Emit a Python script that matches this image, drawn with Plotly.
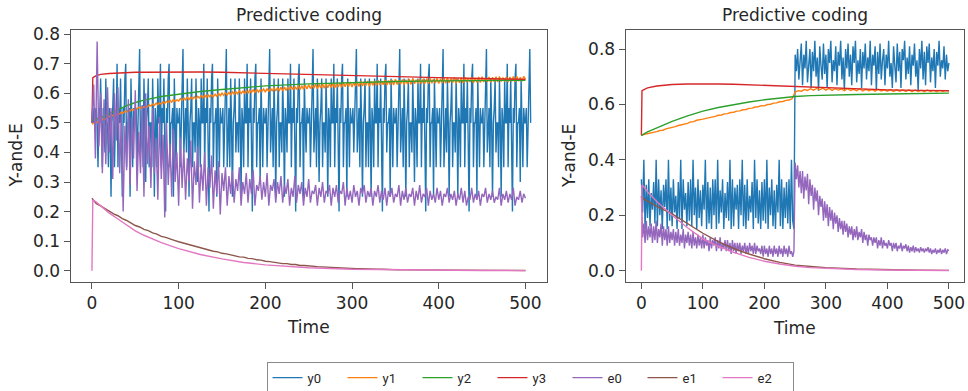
import plotly.graph_objects as go

# ---------------- LEFT PANEL DATA ----------------
# y0, step 1 (t = 0, 1, 2, ...)
L_Y0 = [
    0.5,0.55,0.5,0.55,0.5,0.55,0.5,0.35,0.55,0.5, 0.65,0.5,0.35,0.55,0.5,0.4,0.65,0.5,0.5,0.35,
    0.55,0.5,0.25,0.5,0.55,0.65,0.35,0.5,0.5,0.7, 0.35,0.55,0.5,0.65,0.4,0.25,0.55,0.5,0.65,0.7,
    0.35,0.5,0.5,0.55,0.25,0.65,0.5,0.35,0.55,0.5,
    0.5,0.55,0.35,0.5,0.65,0.75,0.4,0.5,0.55,0.35, 0.65,0.5,0.3,0.5,0.55,0.65,0.35,0.5,0.5,0.35,
    0.65,0.5,0.25,0.55,0.5,0.35,0.65,0.5,0.5,0.7, 0.35,0.55,0.5,0.65,0.4,0.2,0.55,0.5,0.65,0.7,
    0.35,0.5,0.5,0.55,0.25,0.65,0.5,0.35,0.55,0.5,
    0.5,0.55,0.35,0.5,0.65,0.75,0.4,0.5,0.55,0.4, 0.65,0.5,0.25,0.5,0.55,0.65,0.35,0.5,0.5,0.4,
    0.65,0.5,0.3,0.55,0.5,0.35,0.65,0.5,0.5,0.7, 0.35,0.55,0.5,0.65,0.4,0.2,0.55,0.5,0.65,0.7,
    0.35,0.5,0.5,0.55,0.25,0.65,0.5,0.35,0.55,0.5,
    0.5,0.55,0.35,0.5,0.65,0.75,0.35,0.5,0.55,0.35, 0.65,0.5,0.25,0.5,0.55,0.65,0.4,0.5,0.5,0.4,
    0.65,0.5,0.25,0.55,0.5,0.35,0.65,0.5,0.5,0.7, 0.35,0.55,0.5,0.65,0.35,0.2,0.55,0.5,0.65,0.7,
    0.35,0.5,0.5,0.55,0.3,0.65,0.5,0.35,0.55,0.5,
    0.5,0.55,0.35,0.5,0.65,0.75,0.4,0.5,0.55,0.35, 0.65,0.5,0.25,0.5,0.55,0.65,0.35,0.5,0.5,0.4,
    0.65,0.5,0.25,0.55,0.5,0.4,0.65,0.5,0.5,0.7, 0.35,0.55,0.5,0.65,0.4,0.2,0.55,0.5,0.65,0.7,
    0.35,0.5,0.5,0.55,0.25,0.65,0.5,0.4,0.55,0.5,
    0.5,0.55,0.35,0.5,0.65,0.75,0.4,0.5,0.55,0.35, 0.65,0.5,0.3,0.5,0.55,0.65,0.35,0.5,0.5,0.4,
    0.65,0.5,0.25,0.55,0.5,0.35,0.65,0.5,0.5,0.7, 0.35,0.55,0.5,0.65,0.4,0.2,0.55,0.5,0.65,0.7,
    0.35,0.5,0.5,0.55,0.25,0.65,0.5,0.35,0.55,0.5,
    0.5,0.55,0.4,0.5,0.65,0.75,0.4,0.5,0.55,0.35, 0.65,0.5,0.25,0.5,0.55,0.65,0.35,0.5,0.5,0.35,
    0.65,0.5,0.25,0.55,0.5,0.35,0.65,0.5,0.5,0.7, 0.35,0.55,0.5,0.65,0.4,0.2,0.55,0.5,0.65,0.7,
    0.4,0.5,0.5,0.55,0.25,0.65,0.5,0.35,0.55,0.5,
    0.5,0.55,0.35,0.5,0.65,0.75,0.4,0.5,0.55,0.35, 0.65,0.5,0.25,0.5,0.55,0.65,0.35,0.5,0.5,0.4,
    0.65,0.5,0.3,0.55,0.5,0.35,0.65,0.5,0.5,0.7, 0.35,0.55,0.5,0.65,0.4,0.2,0.55,0.5,0.65,0.7,
    0.35,0.5,0.5,0.55,0.25,0.65,0.5,0.35,0.55,0.5,
    0.5,0.55,0.35,0.5,0.65,0.75,0.35,0.5,0.55,0.4, 0.65,0.5,0.25,0.5,0.55,0.65,0.35,0.5,0.5,0.4,
    0.65,0.5,0.25,0.55,0.5,0.35,0.65,0.5,0.5,0.7, 0.35,0.55,0.5,0.65,0.4,0.2,0.55,0.5,0.65,0.7,
    0.35,0.5,0.5,0.55,0.25,0.65,0.5,0.35,0.55,0.5,
    0.5,0.55,0.35,0.5,0.65,0.75,0.4,0.5,0.55,0.35, 0.65,0.5,0.25,0.5,0.55,0.65,0.4,0.5,0.5,0.35,
    0.65,0.5,0.25,0.55,0.5,0.35,0.65,0.5,0.5,0.7, 0.35,0.55,0.5,0.65,0.4,0.2,0.55,0.5,0.65,0.7,
    0.35,0.5,0.5,0.55,0.3,0.65,0.5,0.35,0.55,0.5,
    0.5,0.55,0.35,0.5,0.65,0.75,0.5,
]

# y1, step 2
L_Y1 = [
    0.496,0.499,0.503,0.502,0.507,0.509,0.511,0.514,0.513,0.519,
    0.521,0.526,0.524,0.529,0.527,0.533,0.530,0.536,0.533,0.539,
    0.537,0.544,0.540,0.546,0.543,0.551,0.547,0.553,0.549,0.556,
    0.552,0.558,0.554,0.561,0.557,0.564,0.559,0.567,0.561,0.568,
    0.563,0.571,0.566,0.573,0.568,0.576,0.570,0.579,0.572,0.578,
    0.574,0.582,0.576,0.584,0.578,0.586,0.579,0.587,0.580,0.588,
    0.581,0.590,0.584,0.592,0.585,0.594,0.586,0.595,0.588,0.594,
    0.588,0.597,0.590,0.600,0.592,0.601,0.593,0.602,0.594,0.603,
    0.595,0.605,0.597,0.606,0.598,0.609,0.599,0.607,0.600,0.610,
    0.600,0.611,0.602,0.612,0.603,0.614,0.604,0.612,0.606,0.615,
    0.604,0.616,0.606,0.617,0.607,0.619,0.608,0.618,0.609,0.620,
    0.608,0.621,0.610,0.622,0.611,0.624,0.612,0.623,0.613,0.626,
    0.612,0.626,0.614,0.627,0.615,0.629,0.616,0.628,0.617,0.631,
    0.615,0.630,0.618,0.631,0.617,0.633,0.619,0.632,0.620,0.634,
    0.618,0.633,0.621,0.635,0.620,0.637,0.622,0.636,0.623,0.638,
    0.621,0.637,0.624,0.639,0.623,0.641,0.625,0.638,0.626,0.642,
    0.624,0.640,0.627,0.642,0.626,0.644,0.628,0.641,0.629,0.645,
    0.627,0.643,0.629,0.645,0.628,0.648,0.630,0.644,0.631,0.647,
    0.629,0.646,0.631,0.648,0.630,0.650,0.632,0.646,0.633,0.649,
    0.631,0.648,0.633,0.650,0.632,0.652,0.634,0.648,0.635,0.651,
    0.633,0.649,0.635,0.652,0.634,0.653,0.636,0.650,0.636,0.654,
    0.634,0.651,0.636,0.653,0.635,0.655,0.637,0.651,0.638,0.654,
    0.635,0.652,0.637,0.655,0.636,0.656,0.638,0.652,0.639,0.655,
    0.637,0.654,0.639,0.656,0.638,0.657,0.640,0.653,0.640,0.656,
    0.638,0.655,0.640,0.657,0.639,0.658,0.641,0.654,0.641,0.657,
    0.648,
]

# e0, step 2
L_E0 = [
    0.50,0.63,0.38,0.775,0.42,0.60,0.33,0.58,0.36,0.62,
    0.40,0.55,0.31,0.60,0.44,0.62,0.33,0.53,0.20,0.49,
    0.34,0.58,0.29,0.52,0.38,0.61,0.27,0.47,0.33,0.56,
    0.25,0.60,0.36,0.49,0.28,0.55,0.33,0.45,0.24,0.52,
    0.31,0.46,0.18,0.50,0.29,0.43,0.25,0.48,0.30,0.40,
    0.22,0.45,0.28,0.41,0.24,0.38,0.30,0.44,0.21,0.37,
    0.29,0.42,0.23,0.36,0.27,0.40,0.22,0.35,0.28,0.39,
    0.21,0.34,0.26,0.37,0.19,0.33,0.27,0.35,0.22,0.32,
    0.26,0.34,0.23,0.31,0.27,0.35,0.22,0.30,0.26,0.33,
    0.23,0.31,0.26,0.34,0.22,0.29,0.27,0.32,0.24,0.30,
    0.25,0.33,0.22,0.29,0.27,0.31,0.23,0.30,0.26,0.32,
    0.23,0.29,0.26,0.31,0.22,0.28,0.25,0.32,0.23,0.29,
    0.26,0.30,0.22,0.28,0.25,0.31,0.23,0.27,0.26,0.29,
    0.22,0.28,0.25,0.30,0.23,0.27,0.26,0.29,0.22,0.28,
    0.25,0.29,0.23,0.27,0.26,0.30,0.22,0.28,0.24,0.27,
    0.23,0.29,0.25,0.27,0.22,0.28,0.26,0.29,0.23,0.27,
    0.25,0.28,0.22,0.27,0.25,0.29,0.23,0.27,0.24,0.28,
    0.22,0.27,0.25,0.28,0.23,0.26,0.25,0.29,0.22,0.27,
    0.24,0.28,0.23,0.26,0.25,0.28,0.22,0.27,0.24,0.29,
    0.23,0.26,0.25,0.28,0.22,0.27,0.24,0.26,0.23,0.28,
    0.24,0.27,0.22,0.26,0.25,0.28,0.23,0.26,0.24,0.27,
    0.22,0.26,0.24,0.28,0.23,0.27,0.22,0.25,0.24,0.28,
    0.23,0.26,0.24,0.27,0.22,0.26,0.25,0.28,0.23,0.26,
    0.24,0.27,0.23,0.25,0.24,0.28,0.22,0.26,0.24,0.27,
    0.23,0.26,0.24,0.28,0.22,0.25,0.24,0.27,0.23,0.26,
    0.245,
]

# e1, step 5
L_E1 = [
    0.245,0.227,0.219,0.209,0.201,0.192,0.186,0.176,0.170,0.161,
    0.153,0.148,0.140,0.136,0.128,0.124,0.116,0.113,0.107,0.103,
    0.098,0.094,0.089,0.086,0.081,0.078,0.073,0.071,0.066,0.064,
    0.059,0.057,0.053,0.051,0.047,0.046,0.042,0.041,0.037,0.036,
    0.032,0.031,0.028,0.027,0.024,0.024,0.021,0.021,0.018,0.018,
    0.016,0.015,0.014,0.013,0.012,0.011,0.010,0.010,0.009,0.008,
    0.008,0.007,0.007,0.006,0.006,0.005,0.005,0.005,0.004,0.004,
    0.004,0.003,0.003,0.003,0.003,0.002,0.002,0.002,0.002,0.002,
    0.002,0.001,0.001,0.001,0.001,0.001,0.001,0.001,0.001,0.001,
    0.001,0.001,0.001,0.001,0.001,0.001,0.001,0.001,0.001,0.001,
    0.001,
]

# smooth curves, sampled at these times
L_T_SMOOTH = [0, 1, 5, 10, 20, 30, 40, 50, 60, 80, 100, 125, 150, 175, 200, 250, 300, 350, 400, 450, 500]
L_Y2 = [0.507, 0.508, 0.512, 0.518, 0.531, 0.545, 0.558, 0.569, 0.577, 0.589, 0.597, 0.606, 0.613,
        0.620, 0.625, 0.632, 0.637, 0.640, 0.642, 0.643, 0.644]
L_Y3 = [0.500, 0.653, 0.660, 0.664, 0.667, 0.669, 0.670, 0.671, 0.671, 0.672, 0.672, 0.672, 0.671,
        0.669, 0.668, 0.664, 0.660, 0.656, 0.653, 0.650, 0.647]
L_E2 = [0.0, 0.240, 0.232, 0.220, 0.195, 0.175, 0.155, 0.135, 0.120, 0.095, 0.075, 0.055, 0.040,
        0.028, 0.020, 0.010, 0.005, 0.003, 0.002, 0.001, 0.0005]

# ---------------- RIGHT PANEL DATA ----------------
# y0, step 2
R_Y0 = [
    0.33,0.21,0.40,0.15,0.31,0.19,0.33,0.16,0.28,0.22,
    0.32,0.17,0.40,0.16,0.33,0.20,0.29,0.15,0.31,0.23,
    0.33,0.15,0.40,0.18,0.30,0.16,0.33,0.21,0.27,0.15,
    0.32,0.19,0.40,0.15,0.33,0.22,0.28,0.16,0.32,0.18,
    0.33,0.16,0.40,0.20,0.30,0.15,0.33,0.19,0.29,0.16,
    0.31,0.22,0.40,0.15,0.32,0.17,0.30,0.15,0.33,0.20,
    0.33,0.15,0.40,0.17,0.29,0.21,0.33,0.15,0.28,0.19,
    0.32,0.18,0.40,0.15,0.33,0.16,0.30,0.22,0.31,0.15,
    0.33,0.20,0.40,0.16,0.31,0.15,0.33,0.18,0.27,0.21,
    0.32,0.15,0.40,0.19,0.33,0.17,0.29,0.15,0.32,0.18,
    0.33,0.17,0.40,0.15,0.30,0.20,0.33,0.16,0.29,0.15,
    0.31,0.21,0.40,0.16,0.33,0.15,0.30,0.19,0.32,0.17,
    0.33,0.15,0.40,0.18,0.15,
    0.78,0.72,0.80,0.69,0.76,0.82,0.67,0.78,0.73,0.83,
    0.68,0.75,0.80,0.66,0.79,0.72,0.83,0.70,0.77,0.65,
    0.81,0.74,0.69,0.82,0.71,0.78,0.66,0.80,0.75,0.83,
    0.68,0.76,0.72,0.81,0.67,0.79,0.74,0.83,0.69,0.77,
    0.65,0.80,0.73,0.82,0.70,0.78,0.67,0.81,0.75,0.83,
    0.68,0.76,0.71,0.80,0.66,0.79,0.73,0.82,0.69,0.77,
    0.72,0.83,0.67,0.78,0.74,0.81,0.65,0.79,0.71,0.82,
    0.69,0.76,0.80,0.67,0.78,0.73,0.83,0.70,0.75,0.66,
    0.81,0.74,0.68,0.82,0.72,0.79,0.66,0.80,0.76,0.83,
    0.69,0.77,0.71,0.81,0.67,0.78,0.74,0.82,0.70,0.76,
    0.65,0.80,0.73,0.83,0.69,0.79,0.67,0.81,0.75,0.82,
    0.68,0.77,0.72,0.80,0.66,0.79,0.74,0.83,0.70,0.76,
    0.73,0.81,0.69,0.78,0.72,0.75,
]

# y1, step 5
R_Y1 = [
    0.490,0.492,0.495,0.496,0.500,0.502,0.506,0.507,0.512,0.514,
    0.518,0.520,0.524,0.526,0.530,0.532,0.537,0.538,0.543,0.544,
    0.547,0.550,0.552,0.556,0.557,0.561,0.562,0.566,0.567,0.571,
    0.572,0.576,0.577,0.581,0.582,0.586,0.587,0.591,0.592,0.596,
    0.595,0.600,0.601,0.605,0.606,0.610,0.611,0.615,0.616,0.621,
    0.645,0.650,0.648,0.654,0.651,0.657,0.652,0.658,0.653,0.659,
    0.652,0.658,0.651,0.657,0.652,0.656,0.650,0.657,0.651,0.655,
    0.650,0.656,0.649,0.655,0.650,0.654,0.648,0.655,0.649,0.653,
    0.648,0.654,0.647,0.653,0.648,0.652,0.647,0.653,0.646,0.652,
    0.647,0.651,0.646,0.652,0.647,0.651,0.646,0.651,0.647,0.650,
    0.648,
]

# e0, step 2
R_E0 = [
    0.27,0.12,0.17,0.10,0.18,0.11,0.16,0.12,0.17,0.10,
    0.16,0.11,0.18,0.10,0.15,0.12,0.17,0.09,0.16,0.11,
    0.15,0.09,0.16,0.10,0.14,0.11,0.15,0.09,0.14,0.10,
    0.15,0.09,0.13,0.10,0.15,0.08,0.13,0.10,0.14,0.09,
    0.13,0.08,0.14,0.09,0.12,0.08,0.13,0.09,0.12,0.08,
    0.13,0.08,0.12,0.09,0.11,0.07,0.12,0.08,0.11,0.09,
    0.12,0.07,0.11,0.08,0.12,0.07,0.10,0.08,0.11,0.07,
    0.11,0.07,0.10,0.06,0.11,0.07,0.10,0.06,0.10,0.07,
    0.10,0.06,0.09,0.07,0.10,0.06,0.09,0.06,0.10,0.07,
    0.09,0.06,0.10,0.06,0.09,0.07,0.08,0.06,0.09,0.05,
    0.09,0.06,0.08,0.05,0.09,0.06,0.08,0.05,0.09,0.06,
    0.08,0.05,0.09,0.06,0.08,0.05,0.09,0.06,0.08,0.05,
    0.09,0.06,0.07,0.05,0.07,0.39,0.33,0.38,0.30,0.36,
    0.28,0.36,0.26,0.34,0.29,0.35,0.24,0.33,0.27,0.31,
    0.22,0.30,0.25,0.29,0.20,0.27,0.23,0.26,0.18,0.25,
    0.19,0.24,0.16,0.23,0.18,0.22,0.15,0.21,0.17,0.20,
    0.14,0.19,0.15,0.18,0.13,0.18,0.14,0.17,0.12,0.16,
    0.13,0.16,0.11,0.15,0.12,0.16,0.11,0.14,0.12,0.15,
    0.10,0.14,0.11,0.13,0.09,0.13,0.11,0.12,0.09,0.12,
    0.10,0.12,0.08,0.11,0.09,0.12,0.08,0.11,0.09,0.10,
    0.08,0.11,0.09,0.10,0.07,0.10,0.08,0.10,0.07,0.09,
    0.08,0.10,0.07,0.09,0.08,0.095,0.07,0.09,0.065,0.085,
    0.07,0.09,0.065,0.085,0.07,0.08,0.065,0.085,0.07,0.08,
    0.065,0.08,0.07,0.085,0.065,0.08,0.06,0.075,0.065,0.08,
    0.06,0.075,0.065,0.08,0.06,0.075,0.065,0.08,0.06,0.075,
    0.072,
]

R_T_SMOOTH = [0, 1, 5, 10, 25, 50, 75, 100, 125, 150, 175, 200, 225, 250, 275, 300, 350, 400, 450, 500]
R_Y2 = [0.487, 0.489, 0.495, 0.501, 0.516, 0.539, 0.559, 0.576, 0.589, 0.600, 0.609, 0.617, 0.624,
        0.629, 0.632, 0.634, 0.636, 0.638, 0.640, 0.641]
R_Y3 = [0.490, 0.650, 0.655, 0.660, 0.667, 0.672, 0.674, 0.675, 0.674, 0.673, 0.671, 0.669, 0.667,
        0.664, 0.662, 0.660, 0.656, 0.653, 0.651, 0.650]
R_E1 = [0.270, 0.265, 0.257, 0.250, 0.232, 0.205, 0.170, 0.135, 0.105, 0.080, 0.060, 0.043, 0.030,
        0.020, 0.015, 0.011, 0.006, 0.003, 0.0015, 0.001]
R_E2 = [0.0, 0.310, 0.300, 0.285, 0.250, 0.200, 0.155, 0.115, 0.088, 0.066, 0.048, 0.034, 0.024,
        0.016, 0.011, 0.008, 0.004, 0.002, 0.001, 0.0005]

NAMES = ["y0", "y1", "y2", "y3", "e0", "e1", "e2"]
COLORS = ["#1f77b4", "#ff7f0e", "#2ca02c", "#d62728", "#9467bd", "#8c564b", "#e377c2"]


def times(values, step):
    return [i * step for i in range(len(values))]


left = [
    (times(L_Y0, 1), L_Y0),
    (times(L_Y1, 2), L_Y1),
    (L_T_SMOOTH, L_Y2),
    (L_T_SMOOTH, L_Y3),
    (times(L_E0, 2), L_E0),
    (times(L_E1, 5), L_E1),
    (L_T_SMOOTH, L_E2),
]
right = [
    (times(R_Y0, 2), R_Y0),
    (times(R_Y1, 5), R_Y1),
    (R_T_SMOOTH, R_Y2),
    (R_T_SMOOTH, R_Y3),
    (times(R_E0, 2), R_E0),
    (R_T_SMOOTH, R_E1),
    (R_T_SMOOTH, R_E2),
]

fig = go.Figure()
for i, (x, y) in enumerate(left):
    fig.add_trace(go.Scatter(x=x, y=y, mode="lines", name=NAMES[i],
                             line=dict(color=COLORS[i], width=1.4),
                             xaxis="x", yaxis="y", showlegend=True))
for i, (x, y) in enumerate(right):
    fig.add_trace(go.Scatter(x=x, y=y, mode="lines", name=NAMES[i],
                             line=dict(color=COLORS[i], width=1.4),
                             xaxis="x2", yaxis="y2", showlegend=False))

FONT = "DejaVu Sans"
TXT = "#262626"
SPINE = "#555555"
axis_common = dict(showline=True, mirror=True, linecolor=SPINE, linewidth=1.3,
                   ticks="outside", ticklen=6, tickwidth=1.3, tickcolor=SPINE,
                   showgrid=False, zeroline=False, automargin=False,
                   tickfont=dict(family=FONT, size=17, color=TXT))

y_dom = [1 - 281.7 / 391, 1 - 30.3 / 391]
fig.update_layout(
    template="none",
    width=968, height=391,
    margin=dict(l=0, r=0, t=0, b=0, autoexpand=False),
    paper_bgcolor="white", plot_bgcolor="white",
    xaxis=dict(domain=[70.7 / 968, 546.7 / 968], range=[-24.5, 524.5],
               tickvals=[0, 100, 200, 300, 400, 500], anchor="y", **axis_common),
    yaxis=dict(domain=y_dom, range=[-0.037, 0.813],
               tickvals=[0, 0.1, 0.2, 0.3, 0.4, 0.5, 0.6, 0.7, 0.8], tickformat=".1f",
               anchor="x", **axis_common),
    xaxis2=dict(domain=[625.7 / 968, 964 / 968], range=[-25.5, 524.5],
                tickvals=[0, 100, 200, 300, 400, 500], anchor="y2", **axis_common),
    yaxis2=dict(domain=y_dom, range=[-0.04, 0.868],
                tickvals=[0, 0.2, 0.4, 0.6, 0.8], tickformat=".1f",
                anchor="x2", **axis_common),
    legend=dict(orientation="h", x=530 / 968, xanchor="center", y=1 - 361.7 / 391, yanchor="top",
                bordercolor="#8a8a8a", borderwidth=1, bgcolor="white",
                font=dict(family="Roboto", size=13, color=TXT),
                entrywidth=30, entrywidthmode="pixels", tracegroupgap=0),
    showlegend=True,
)

annos = [
    dict(text="Predictive coding", x=308.7 / 968, y=1 - 15 / 391, size=17, angle=0),
    dict(text="Predictive coding", x=794.9 / 968, y=1 - 15 / 391, size=17, angle=0),
    dict(text="Time", x=308.7 / 968, y=1 - 327 / 391, size=17, angle=0),
    dict(text="Time", x=794.9 / 968, y=1 - 328 / 391, size=17, angle=0),
    dict(text="Y-and-E", x=15.5 / 968, y=1 - 156 / 391, size=17, angle=-90),
    dict(text="Y-and-E", x=569 / 968, y=1 - 156 / 391, size=17, angle=-90),
]
for a in annos:
    fig.add_annotation(text=a["text"], x=a["x"], y=a["y"], xref="paper", yref="paper",
                       xanchor="center", yanchor="middle", showarrow=False, textangle=a["angle"],
                       font=dict(family=FONT, size=a["size"], color=TXT))

fig.write_html("out.html", config={"displayModeBar": False},
               post_script="document.body.style.margin='0';document.body.style.overflow='hidden';")
